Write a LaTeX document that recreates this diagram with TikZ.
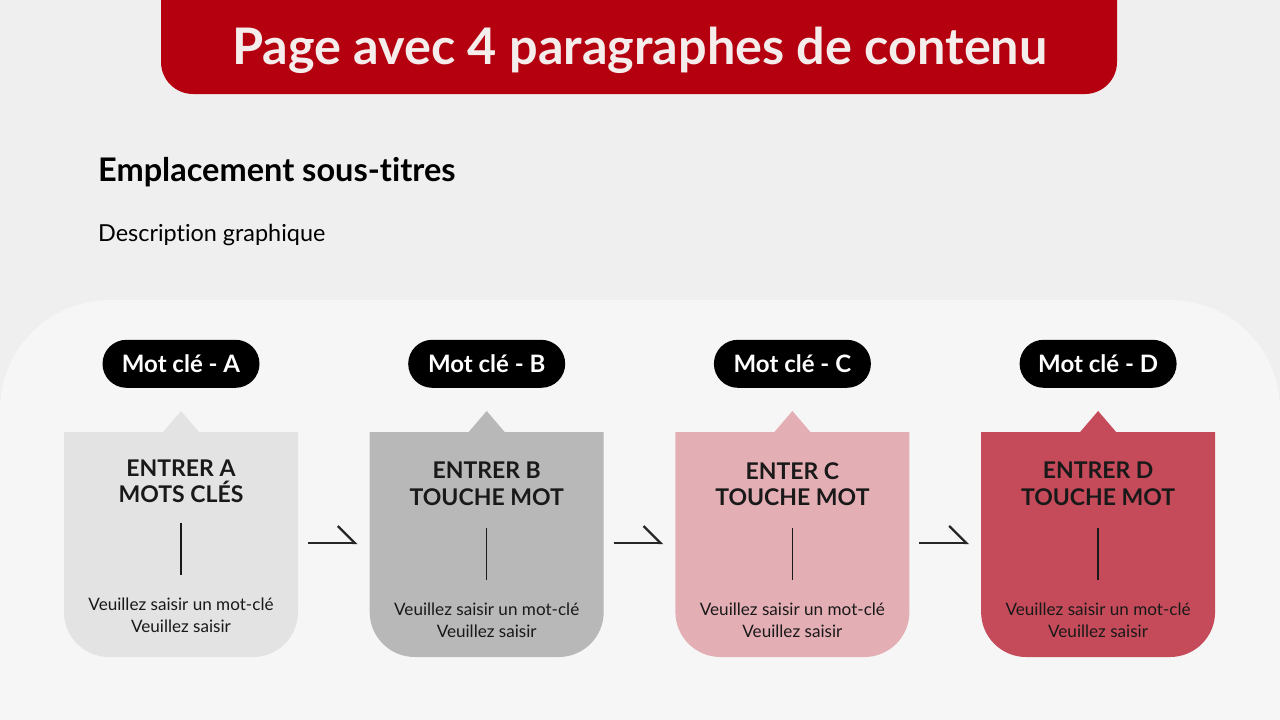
\documentclass[tikz,border=0pt]{standalone}
\usepackage{fontspec}
\setmainfont{Lato}[Ligatures=CommonOff]
\usetikzlibrary{positioning,arrows.meta}

\definecolor{pagebg}{HTML}{EFEFEF}
\definecolor{panelbg}{HTML}{F6F6F6}
\definecolor{titlered}{HTML}{B5000F}
\definecolor{titleink}{HTML}{F5ECEC}
\definecolor{cardgrayA}{HTML}{E3E3E3}
\definecolor{cardgrayB}{HTML}{B8B8B8}
\definecolor{cardpink}{HTML}{E4AEB5}
\definecolor{cardred}{HTML}{C64B5A}

\begin{document}
\begin{tikzpicture}[x=1pt, y=-1pt, node distance=71.7pt,
    pill/.style={fill=black, text=white, font=\fontsize{24}{28}\selectfont\bfseries,
      rounded corners=24pt, minimum width=157pt, minimum height=48pt, inner sep=0pt},
    card/.style={minimum width=234pt, minimum height=225pt, inner sep=0pt, outer sep=0pt},
    cardtitle/.style={font=\fontsize{23}{26.5}\selectfont\bfseries, align=center, text=black!90, inner sep=0pt},
    cardtext/.style={font=\fontsize{17.1}{22}\selectfont, align=center, text=black!90, inner sep=0pt},
    divider/.style={line width=1.4pt, black!90},
    flow/.style={line width=2.4pt, black!85, -{Straight Barb[left, length=17pt, width=34pt]}}]

  % page and panels
  \useasboundingbox (0,0) rectangle (1280,720);
  \fill[pagebg] (0,0) rectangle (1280,720);
  \fill[panelbg, rounded corners=110pt] (0,720) -- (0,300) -- (1280,300) -- (1280,720);
  \fill[titlered, rounded corners=32pt] (161,-40) -- (161,94) -- (1117,94) -- (1117,-40);

  \node[text=titleink, font=\fontsize{50.4}{56}\selectfont\bfseries] (title) at (640,50) {Page avec 4 paragraphes de contenu};
  \node[anchor=west, inner sep=0pt, font=\fontsize{32.5}{36}\selectfont\bfseries] (subtitle) at (98,172) {Emplacement sous-titres};
  \node[anchor=west, inner sep=0pt, font=\fontsize{23.4}{28}\selectfont] (desc) at (98,235) {Description graphique};

  % cards
  \node[card] (cardA) at (181,544.5) {};
  \node[card, right=of cardA] (cardB) {};
  \node[card, right=of cardB] (cardC) {};
  \node[card, right=of cardC] (cardD) {};

  \foreach \c/\col in {cardA/cardgrayA, cardB/cardgrayB, cardC/cardpink, cardD/cardred}
    \fill[\col] (\c.north west) -- ([xshift=-18pt]\c.north) -- ([yshift=21pt]\c.north)
      -- ([xshift=18pt]\c.north) -- (\c.north east) -- ([yshift=45pt]\c.south east)
      arc[start angle=0, end angle=-90, radius=45pt] -- ([xshift=45pt]\c.south west)
      arc[start angle=270, end angle=180, radius=45pt] -- cycle;

  % keywords
  \node[pill, above=44pt of cardA] (keyA) {Mot clé - A};
  \node[pill, above=44pt of cardB] (keyB) {Mot clé - B};
  \node[pill, above=44pt of cardC] (keyC) {Mot clé - C};
  \node[pill, above=44pt of cardD] (keyD) {Mot clé - D};

  % card contents
  \node[cardtitle] (headA) at ([yshift=-49.5pt]cardA.north) {ENTRER A\\MOTS CLÉS};
  \node[cardtitle] (headB) at ([yshift=-52pt]cardB.north) {ENTRER B\\TOUCHE MOT};
  \node[cardtitle] (headC) at ([yshift=-52pt]cardC.north) {ENTER C\\TOUCHE MOT};
  \node[cardtitle] (headD) at ([yshift=-52pt]cardD.north) {ENTRER D\\TOUCHE MOT};

  \draw[divider] ([yshift=-91pt]cardA.north) -- ++(0,52);
  \draw[divider] ([yshift=-96pt]cardB.north) -- ++(0,52);
  \draw[divider] ([yshift=-96pt]cardC.north) -- ++(0,52);
  \draw[divider] ([yshift=-96pt]cardD.north) -- ++(0,52);

  \node[cardtext] (textA) at ([yshift=-183pt]cardA.north) {Veuillez saisir un mot-clé\\Veuillez saisir};
  \node[cardtext] (textB) at ([yshift=-188pt]cardB.north) {Veuillez saisir un mot-clé\\Veuillez saisir};
  \node[cardtext] (textC) at ([yshift=-188pt]cardC.north) {Veuillez saisir un mot-clé\\Veuillez saisir};
  \node[cardtext] (textD) at ([yshift=-188pt]cardD.north) {Veuillez saisir un mot-clé\\Veuillez saisir};

  % flow
  \draw[flow] ([xshift=10pt,yshift=1.5pt]cardA.east) -- ([xshift=-12pt,yshift=1.5pt]cardB.west);
  \draw[flow] ([xshift=10pt,yshift=1.5pt]cardB.east) -- ([xshift=-12pt,yshift=1.5pt]cardC.west);
  \draw[flow] ([xshift=10pt,yshift=1.5pt]cardC.east) -- ([xshift=-12pt,yshift=1.5pt]cardD.west);
\end{tikzpicture}
\end{document}
